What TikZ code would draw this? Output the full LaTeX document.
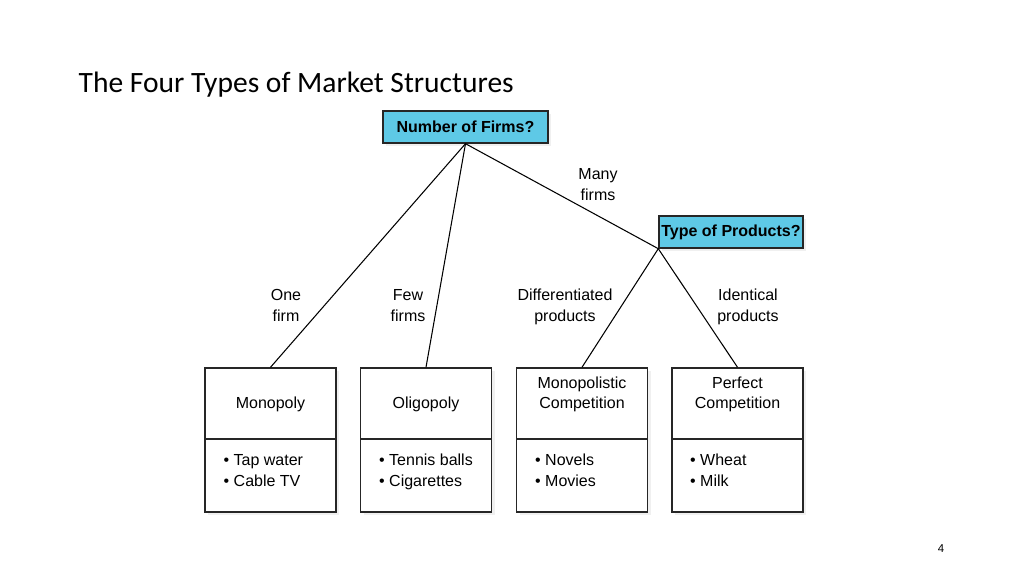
\documentclass[tikz,border=0pt]{standalone}
\usepackage{fontspec}
\setmainfont{Liberation Sans}
\newfontfamily\titlefont{Carlito}
\usetikzlibrary{shadows}
\definecolor{askblue}{RGB}{94,201,230}

\begin{document}
\begin{tikzpicture}[thick,font=\fontsize{9.1}{11.4}\selectfont,
	question/.style={rectangle,draw=black!85,fill=askblue,inner sep=0pt,minimum height=0.64cm,font=\fontsize{9.1}{11.4}\selectfont\bfseries,drop shadow={opacity=0.12,shadow xshift=0.06cm,shadow yshift=-0.06cm}},
	kind/.style={rectangle,draw=black!85,fill=white,inner sep=0pt,minimum width=2.62cm,minimum height=1.42cm,align=center,drop shadow={opacity=0.12,shadow xshift=0.06cm,shadow yshift=-0.06cm}},
	examples/.style={rectangle,draw=black!85,fill=white,inner sep=0pt,minimum width=2.62cm,minimum height=1.46cm,drop shadow={opacity=0.12,shadow xshift=0.06cm,shadow yshift=-0.06cm}},
	branch/.style={align=center,inner sep=0pt},
	list/.style={anchor=west,align=left,inner sep=0pt}]

	\useasboundingbox (0,0) rectangle (20.48,11.52);

	\node (title) at (1.56,9.82) [anchor=west,inner sep=0pt,font=\titlefont\fontsize{16.8}{20}\selectfont] {The Four Types of Market Structures};

	\node (firms) at (9.31,8.98) [question,minimum width=3.3cm] {Number of Firms?};
	\node (products) at (14.62,6.88) [question,minimum width=2.88cm] {Type of Products?};

	\node (mono) at (5.41,3.45) [kind] {};
	\node (olig) at (8.52,3.45) [kind] {};
	\node (monocomp) at (11.64,3.45) [kind] {};
	\node (perfect) at (14.75,3.45) [kind] {};

	\node (monoex) at (5.41,2.01) [examples] {};
	\node (oligex) at (8.52,2.01) [examples] {};
	\node (monocompex) at (11.64,2.01) [examples] {};
	\node (perfectex) at (14.75,2.01) [examples] {};

	% box texts
	\node (monotxt) at (5.41,3.43) [branch] {\strut Monopoly};
	\node (oligtxt) at (8.52,3.43) [branch] {\strut Oligopoly};
	\node (monocomptxt) at (11.64,3.63) [branch] {\strut Monopolistic\\\strut Competition};
	\node (perfecttxt) at (14.75,3.63) [branch] {\strut Perfect\\\strut Competition};

	\node (monolist) at (4.46,2.08) [list] {\strut\textbullet\ Tap water\\\strut\textbullet\ Cable TV};
	\node (oliglist) at (7.57,2.08) [list] {\strut\textbullet\ Tennis balls\\\strut\textbullet\ Cigarettes};
	\node (monocomplist) at (10.69,2.08) [list] {\strut\textbullet\ Novels\\\strut\textbullet\ Movies};
	\node (perfectlist) at (13.79,2.08) [list] {\strut\textbullet\ Wheat\\\strut\textbullet\ Milk};

	% branch labels
	\node (one) at (5.72,5.38) [branch] {\strut One\\\strut firm};
	\node (few) at (8.16,5.38) [branch] {\strut Few\\\strut firms};
	\node (many) at (11.96,7.8) [branch] {\strut Many\\\strut firms};
	\node (diff) at (11.3,5.38) [branch] {\strut Differentiated\\\strut products};
	\node (ident) at (14.96,5.38) [branch] {\strut Identical\\\strut products};

	\draw[semithick] (firms.south) -- (mono.north);
	\draw[semithick] (firms.south) -- (olig.north);
	\draw[semithick] (firms.south) -- (products.south west);
	\draw[semithick] (products.south west) -- (monocomp.north);
	\draw[semithick] (products.south west) -- (perfect.north);

	\node (page) at (18.82,0.54) [font=\fontsize{6.5}{8}\selectfont] {4};

\end{tikzpicture}
\end{document}
